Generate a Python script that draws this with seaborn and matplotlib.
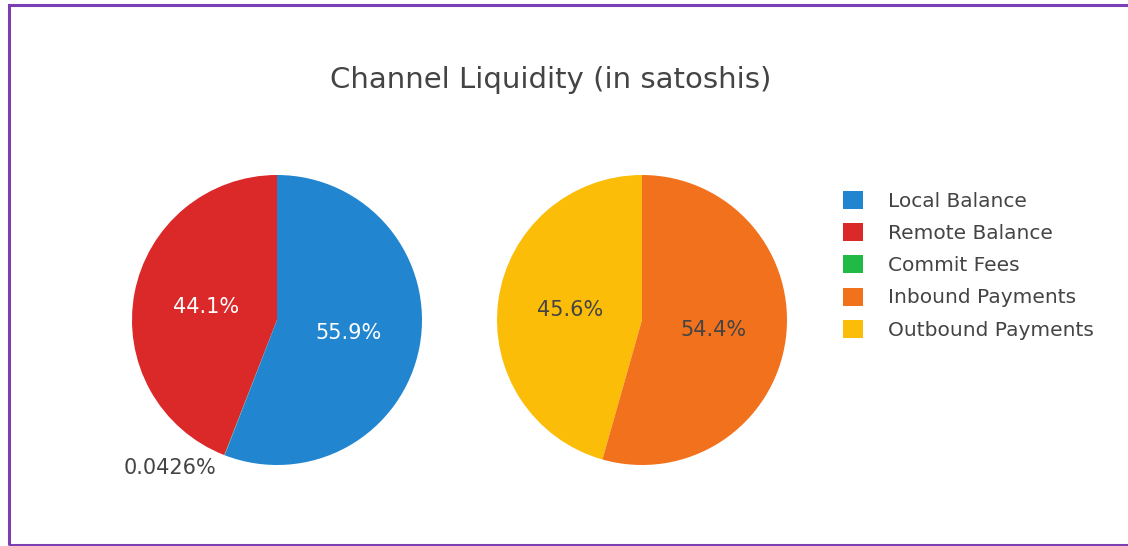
import numpy as np
import matplotlib
matplotlib.use("Agg")
import matplotlib.pyplot as plt
from matplotlib.patches import Patch, Rectangle
import seaborn as sns

# Datos (porcentajes)
balance_labels = ["Remote Balance", "Commit Fees", "Local Balance"]
balance_values = [44.1, 0.0426, 55.9]
payment_labels = ["Outbound Payments", "Inbound Payments"]
payment_values = [45.6, 54.4]
legend_order = ["Local Balance", "Remote Balance", "Commit Fees",
                "Inbound Payments", "Outbound Payments"]
colors = {
    "Local Balance": "#2185d0",
    "Remote Balance": "#db2828",
    "Commit Fees": "#21ba45",
    "Inbound Payments": "#f2711c",
    "Outbound Payments": "#fbbd08",
}
text_colors = {
    "Local Balance": "white",
    "Remote Balance": "white",
    "Commit Fees": "#444444",
    "Inbound Payments": "#444444",
    "Outbound Payments": "#444444",
}

sns.set_theme(style="white")
plt.rcParams["font.family"] = ["DejaVu Sans"]

W, H = 1128, 546
fig = plt.figure(figsize=(W / 100, H / 100), dpi=100)
fig.patch.set_facecolor("white")

# marco morado de la captura
fig.add_artist(Rectangle((9 / W, 1 - 545 / H), 1.2, 540 / H,
                         transform=fig.transFigure, fill=False,
                         edgecolor="#7b3fb3", linewidth=2.2))

R = 145


def pie_axes(cx, cy):
    ax = fig.add_axes([(cx - R) / W, 1 - (cy + R) / H, 2 * R / W, 2 * R / H])
    ax.set_xlim(-1, 1)
    ax.set_ylim(-1, 1)
    ax.axis("off")
    return ax


def draw_pie(ax, labels, values):
    pal = sns.color_palette([colors[l] for l in labels])
    wedges, _ = ax.pie(values, colors=pal, startangle=90, counterclock=True,
                       radius=1, center=(0, 0), frame=False,
                       wedgeprops=dict(linewidth=0))
    ax.set_xlim(-1, 1)
    ax.set_ylim(-1, 1)
    total = sum(values)
    for w, lab, v in zip(wedges, labels, values):
        pct = 100 * v / total
        mid = np.deg2rad((w.theta1 + w.theta2) / 2)
        if pct < 1:
            # etiqueta exterior para la porcion minima
            ax.annotate(f"{pct:.3g}%", (1.04 * np.cos(mid), 1.04 * np.sin(mid)),
                        xytext=(-4, 2), textcoords="offset points",
                        ha="right", va="top", fontsize=15, color="#444444",
                        annotation_clip=False)
        else:
            ax.text(0.5 * np.cos(mid), 0.5 * np.sin(mid), f"{pct:.1f}%",
                    ha="center", va="center", fontsize=15,
                    color=text_colors[lab])


ax1 = pie_axes(277, 320)
draw_pie(ax1, balance_labels, balance_values)
ax2 = pie_axes(642, 320)
draw_pie(ax2, payment_labels, payment_values)

fig.text(551 / W, 1 - 80 / H, "Channel Liquidity (in satoshis)",
         ha="center", va="center", fontsize=21, color="#444444")

handles = [Patch(facecolor=colors[l], edgecolor="none", label=l) for l in legend_order]
fig.legend(handles=handles, loc="upper left",
           bbox_to_anchor=(843 / W, 1 - 191 / H), frameon=False,
           fontsize=14.5, labelcolor="#444444", handlelength=1.0,
           handleheight=1.0, handletextpad=1.25, labelspacing=0.61,
           borderpad=0, borderaxespad=0)

fig.savefig("out.png", dpi=100, facecolor="white")
